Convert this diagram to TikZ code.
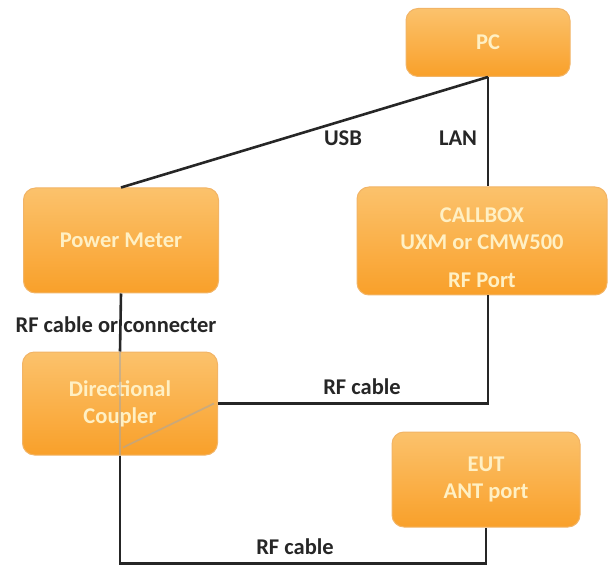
\documentclass[tikz,border=0pt]{standalone}
\usepackage{fontspec}
\setmainfont{Carlito}
\usetikzlibrary{positioning}
\definecolor{kastboven}{HTML}{FBC26C}
\definecolor{kastonder}{HTML}{F9A02A}
\definecolor{kastrand}{HTML}{F2B466}
\definecolor{kasttekst}{HTML}{FFF0C4}
\definecolor{kabelkleur}{HTML}{262626}
\begin{document}
\begin{tikzpicture}[x=1pt,y=1pt,
	blok/.style={rectangle,rounded corners=12pt,top color=kastboven,bottom color=kastonder,draw=kastrand,line width=1pt,text=kasttekst,font=\fontsize{22.5}{27}\selectfont\bfseries,align=center,inner sep=0pt},
	kabel/.style={draw=kabelkleur,line width=2.6pt},
	binnen/.style={draw=gray!70,line width=1.8pt,opacity=0.55},
	tekst/.style={text=kabelkleur,font=\fontsize{22.5}{27}\selectfont\bfseries,inner sep=0pt},
]
\useasboundingbox (0,0) rectangle (609,565);
\node[blok,minimum width=164pt,minimum height=68pt] (pc) at (488,522.5) {PC};
\node[blok,minimum width=250pt,minimum height=108pt,text height=93pt] (cb) at (482,324) {CALLBOX\\UXM or CMW500\\[11pt]RF Port};
\node[blok,minimum width=195pt,minimum height=105pt] (pm) at (121,324.5) {Power Meter};
\node[blok,minimum width=195pt,minimum height=103pt] (dc) at (120,161.5) {Directional\\Coupler};
\node[blok,minimum width=188pt,minimum height=95pt] (eut) at (486,85.5) {EUT\\ANT port};

\draw[kabel] (pc.south) -- (pm.north);
\draw[kabel] (pc.south) -- (pc.south |- cb.north);
\draw[kabel] (pm.south) -- (dc.north);
\draw[kabel] (dc.east) -| (pc.south |- cb.south);
\draw[kabel] (dc.south) -- ++(0,-108) coordinate (hoek) -| (eut.south);

% lijnen in de coupler
\draw[binnen] (dc.north) -- (dc.south);
\draw[binnen] ([xshift=-4pt]dc.east) -- ([xshift=3pt,yshift=8pt]dc.south);

\node[tekst] (usb) at (343,427) {USB};
\node[tekst] (lan) at (458,427) {LAN};
\node[tekst] (rfc) at (116,240) {RF cable or connecter};
\node[tekst] (rf1) at (362,178) {RF cable};
\node[tekst] (rf2) at (295,18) {RF cable};
\end{tikzpicture}
\end{document}
